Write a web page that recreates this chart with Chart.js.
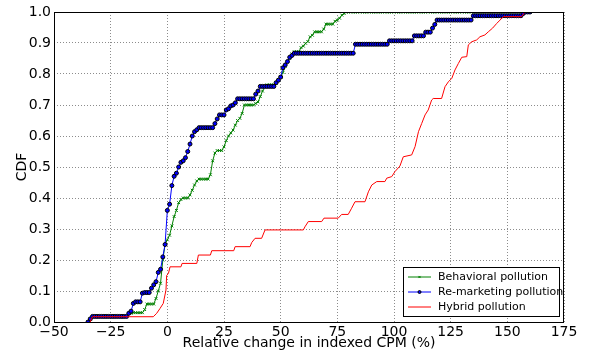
<!DOCTYPE html>
<html>
<head>
<meta charset="utf-8">
<script src="https://cdn.jsdelivr.net/npm/chart.js@4/dist/chart.umd.min.js"></script>
<style>
  body { margin: 0; background: #fff; }
  #wrap { width: 594px; height: 354px; }
</style>
</head>
<body>
<div id="wrap"><canvas id="cdfChart" width="594" height="354"></canvas></div>
<script>
// x positions where the CDF was sampled (relative change in %)
const cpmGrid = [
  -35, -34, -33, -32, -31, -30, -29, -28, -27, -26,
  -25, -24, -23, -22, -21, -20, -19, -18, -17, -16,
  -15, -14, -13, -12, -11, -10, -9, -8, -7, -6,
  -5, -4, -3, -2, -1, 0, 1, 2, 3, 4,
  5, 6, 7, 8, 9, 10, 11, 12, 13, 14,
  15, 16, 17, 18, 19, 20, 21, 22, 23, 24,
  25, 26, 27, 28, 29, 30, 31, 32, 33, 34,
  35, 36, 37, 38, 39, 40, 41, 42, 43, 44,
  45, 46, 47, 48, 49, 50, 51, 52, 53, 54,
  55, 56, 57, 58, 59, 60, 61, 62, 63, 64,
  65, 66, 67, 68, 69, 70, 71, 72, 73, 74,
  75, 76, 77, 78, 79, 80, 81, 82, 83, 84,
  85, 86, 87, 88, 89, 90, 91, 92, 93, 94,
  95, 96, 97, 98, 99, 100, 101, 102, 103, 104,
  105, 106, 107, 108, 109, 110, 111, 112, 113, 114,
  115, 116, 117, 118, 119, 120, 121, 122, 123, 124,
  125, 126, 127, 128, 129, 130, 131, 132, 133, 134,
  135, 136, 137, 138, 139, 140, 141, 142, 143, 144,
  145, 146, 147, 148, 149, 150, 151, 152, 153, 154,
  155, 156, 157, 158, 159, 160
];

const behavioral = [
  0, 0.01, 0.017, 0.017, 0.017, 0.017, 0.017, 0.017, 0.017, 0.017,
  0.017, 0.017, 0.017, 0.017, 0.017, 0.017, 0.017, 0.017, 0.028, 0.028,
  0.03, 0.03, 0.03, 0.03, 0.03, 0.04, 0.058, 0.058, 0.058, 0.058,
  0.076, 0.1, 0.125, 0.2, 0.25, 0.265, 0.28, 0.31, 0.34, 0.36,
  0.385, 0.395, 0.4, 0.4, 0.4, 0.41, 0.425, 0.442, 0.455, 0.461,
  0.461, 0.461, 0.461, 0.461, 0.475, 0.52, 0.545, 0.553, 0.553, 0.553,
  0.565, 0.585, 0.6, 0.61, 0.619, 0.635, 0.65, 0.657, 0.673, 0.7,
  0.7, 0.7, 0.7, 0.7, 0.705, 0.71, 0.727, 0.745, 0.76, 0.765,
  0.765, 0.765, 0.765, 0.77, 0.78, 0.79, 0.805, 0.825, 0.84, 0.85,
  0.865, 0.872, 0.872, 0.872, 0.885, 0.89, 0.899, 0.905, 0.92, 0.925,
  0.936, 0.936, 0.936, 0.936, 0.945, 0.961, 0.961, 0.961, 0.961, 0.97,
  0.974, 0.98, 0.99, 0.995, 1, 1, 1, 1, 1, 1,
  1, 1, 1, 1, 1, 1, 1, 1, 1, 1,
  1, 1, 1, 1, 1, 1, 1, 1, 1, 1,
  1, 1, 1, 1, 1, 1, 1, 1, 1, 1,
  1, 1, 1, 1, 1, 1, 1, 1, 1, 1,
  1, 1, 1, 1, 1, 1, 1, 1, 1, 1,
  1, 1, 1, 1, 1, 1, 1, 1, 1, 1,
  1, 1, 1, 1, 1, 1, 1, 1, 1, 1,
  1, 1, 1, 1, 1, 1
];

const remarketing = [
  0, 0.01, 0.018, 0.018, 0.018, 0.018, 0.018, 0.018, 0.018, 0.018,
  0.018, 0.018, 0.018, 0.018, 0.018, 0.018, 0.018, 0.018, 0.028, 0.035,
  0.06, 0.065, 0.065, 0.065, 0.093, 0.095, 0.095, 0.095, 0.109, 0.12,
  0.13, 0.16, 0.17, 0.21, 0.25, 0.36, 0.38, 0.44, 0.47, 0.48,
  0.5, 0.515, 0.52, 0.53, 0.55, 0.574, 0.6, 0.614, 0.62, 0.627,
  0.627, 0.627, 0.627, 0.627, 0.627, 0.627, 0.64, 0.655, 0.668, 0.668,
  0.668, 0.684, 0.688, 0.697, 0.7, 0.707, 0.72, 0.72, 0.72, 0.72,
  0.72, 0.72, 0.72, 0.72, 0.735, 0.745, 0.76, 0.76, 0.76, 0.76,
  0.76, 0.76, 0.76, 0.772, 0.78, 0.79, 0.82, 0.829, 0.84, 0.854,
  0.86, 0.867, 0.867, 0.867, 0.867, 0.867, 0.867, 0.867, 0.867, 0.867,
  0.867, 0.867, 0.867, 0.867, 0.867, 0.867, 0.867, 0.867, 0.867, 0.867,
  0.867, 0.867, 0.867, 0.867, 0.867, 0.867, 0.867, 0.867, 0.896, 0.896,
  0.896, 0.896, 0.896, 0.896, 0.896, 0.896, 0.896, 0.896, 0.896, 0.896,
  0.896, 0.896, 0.896, 0.907, 0.907, 0.907, 0.907, 0.907, 0.907, 0.907,
  0.907, 0.907, 0.907, 0.907, 0.923, 0.923, 0.923, 0.923, 0.923, 0.935,
  0.935, 0.935, 0.948, 0.96, 0.974, 0.974, 0.974, 0.974, 0.974, 0.974,
  0.974, 0.974, 0.974, 0.974, 0.974, 0.974, 0.974, 0.974, 0.974, 0.974,
  0.988, 0.988, 0.988, 0.988, 0.988, 0.988, 0.988, 0.988, 0.988, 0.988,
  0.988, 0.988, 0.988, 0.988, 0.988, 0.988, 0.988, 0.988, 0.988, 0.988,
  0.988, 0.988, 0.995, 1, 1, 1
];

// hybrid has no markers, so only its corners are kept
const hybridX = [-34, -33.4, -33, -6.2, -4.7, -3.2, -1.8, -0.6, -0.3, 0.5,
  1.2, 6, 6.5, 13, 13.7, 19, 19.6, 29.3, 29.9, 36.5,
  37.2, 38.7, 41.6, 43.1, 60, 60.7, 62.2, 68.1, 69.1, 75.4,
  76.9, 79.8, 81.3, 82.8, 87.2, 88.7, 90.2, 92.4, 96, 96.8,
  99, 100.4, 102.6, 104.1, 107.8, 109.3, 110.8, 112.2, 113.7, 115.1,
  116.6, 117.3, 121, 122.5, 124, 125.5, 126.9, 128.4, 129.9, 132.1,
  132.8, 134.3, 136.5, 137.9, 140.1, 141.6, 143.5, 145.3, 146.8, 148.2,
  156.3, 157.8];
const hybridY = [0, 0.012, 0.017, 0.017, 0.028, 0.044, 0.06, 0.103, 0.15, 0.157,
  0.178, 0.178, 0.189, 0.189, 0.216, 0.216, 0.23, 0.23, 0.243, 0.243,
  0.256, 0.27, 0.27, 0.297, 0.297, 0.307, 0.324, 0.324, 0.335, 0.335,
  0.347, 0.347, 0.367, 0.388, 0.388, 0.42, 0.442, 0.453, 0.453, 0.464,
  0.469, 0.485, 0.503, 0.533, 0.539, 0.566, 0.614, 0.64, 0.668, 0.684,
  0.716, 0.721, 0.721, 0.759, 0.775, 0.786, 0.813, 0.834, 0.854, 0.856,
  0.894, 0.904, 0.91, 0.92, 0.926, 0.936, 0.948, 0.963, 0.974, 0.985,
  0.985, 1.0];

const seriesNames = ['Behavioral pollution', 'Re-marketing pollution', 'Hybrid pollution'];
const xTicks = [-50, -25, 0, 25, 50, 75, 100, 125, 150, 175];

const toPoints = (xs, ys) => xs.map((x, i) => ({ x: x, y: ys[i] }));

// box round the plot + legend inside the axes, matplotlib style
const framePlugin = {
  id: 'frame',
  afterDraw: (chart) => {
    const c = chart.ctx;
    const a = chart.chartArea;
    c.save();
    c.strokeStyle = '#000';
    c.lineWidth = 1;
    c.strokeRect(a.left + 0.5, a.top + 0.5, a.right - a.left - 1, a.bottom - a.top);

    // legend box
    const bx = a.right - 161, by = a.bottom - 55, bw = 156, bh = 49;
    c.fillStyle = '#fff';
    c.fillRect(bx, by, bw, bh);
    c.strokeRect(bx + 0.5, by + 0.5, bw, bh);
    c.font = '11px "DejaVu Sans"';
    c.textBaseline = 'middle';
    chart.data.datasets.forEach((ds, i) => {
      const ly = by + 10 + i * 15;
      c.strokeStyle = ds.borderColor;
      c.lineWidth = 1;
      c.beginPath();
      c.moveTo(bx + 5, ly);
      c.lineTo(bx + 28, ly);
      c.stroke();
      if (ds.pointRadius > 0) {
        c.fillStyle = ds.pointBackgroundColor;
        c.strokeStyle = ds.pointBorderColor;
        Chart.helpers.drawPoint(c, {
          pointStyle: ds.pointStyle, radius: ds.pointRadius - 0.5,
          borderWidth: ds.pointBorderWidth
        }, bx + 16.5, ly);
      }
      c.fillStyle = '#000';
      c.fillText(ds.label, bx + 35, ly);
    });
    c.restore();
  }
};

const gridStyle = {
  color: 'rgba(0,0,0,0.45)',
  lineWidth: 1,
  tickLength: 0,
  drawTicks: false
};

new Chart(document.getElementById('cdfChart'), {
  type: 'line',
  data: {
    datasets: [{
      label: seriesNames[0],
      data: toPoints(cpmGrid, behavioral),
      borderColor: '#008000',
      borderWidth: 1,
      pointStyle: 'crossRot',
      pointRadius: 2,
      pointBorderWidth: 1,
      pointBorderColor: '#008000',
      pointBackgroundColor: '#008000',
      order: 2
    }, {
      label: seriesNames[1],
      data: toPoints(cpmGrid, remarketing),
      borderColor: '#0000ff',
      borderWidth: 1,
      pointStyle: 'circle',
      pointRadius: 2,
      pointBorderWidth: 1,
      pointBorderColor: '#000',
      pointBackgroundColor: '#0000ff',
      order: 1
    }, {
      label: seriesNames[2],
      data: toPoints(hybridX, hybridY),
      borderColor: '#ff0000',
      borderWidth: 1,
      pointRadius: 0,
      order: 0
    }]
  },
  options: {
    responsive: false,
    animation: false,
    layout: { padding: { left: 0, right: 30, top: 12, bottom: 0 } },
    plugins: {
      legend: { display: false },
      tooltip: { enabled: false }
    },
    scales: {
      x: {
        type: 'linear',
        min: -50,
        max: 175,
        afterBuildTicks: (scale) => { scale.ticks = xTicks.map(v => ({ value: v })); },
        grid: gridStyle,
        border: { display: false, dash: [1, 2] },
        ticks: {
          color: '#000',
          padding: 2,
          font: { family: 'DejaVu Sans', size: 14 },
          maxRotation: 0,
          callback: (v) => String(v).replace('-', '\u2212')
        },
        title: {
          display: true,
          text: 'Relative change in indexed CPM (%)',
          color: '#000',
          font: { family: 'DejaVu Sans', size: 14 },
          padding: { top: 0, bottom: 2 }
        },
        afterFit: (scale) => { scale.height = 32; }
      },
      y: {
        min: 0,
        max: 1,
        grid: gridStyle,
        border: { display: false, dash: [1, 2] },
        ticks: {
          stepSize: 0.1,
          color: '#000',
          padding: 3,
          font: { family: 'DejaVu Sans', size: 14 },
          callback: (v) => v.toFixed(1)
        },
        title: {
          display: true,
          text: 'CDF',
          color: '#000',
          font: { family: 'DejaVu Sans', size: 14 },
          padding: { top: 14, bottom: 0 }
        },
        afterFit: (scale) => { scale.width = 54; }
      }
    }
  }
  ,
  plugins: [framePlugin]
});
</script>
</body>
</html>
